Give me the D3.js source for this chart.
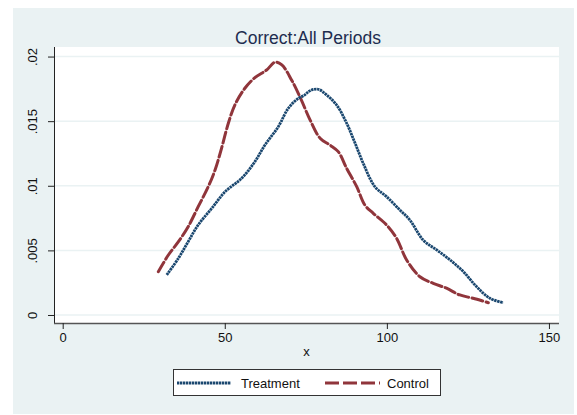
<!DOCTYPE html>
<html lang="en">
<head>
    <meta charset="UTF-8">
    <title>Correct:All Periods</title>
    <script src="https://d3js.org/d3.v7.min.js"></script>
    <style>
        body { margin: 0; background: #fff; }
        text { font-family: "Liberation Sans", Arial, sans-serif; }
    </style>
</head>
<body>
    <svg id="chart" width="577" height="415"></svg>
    <script>
    // density estimates
    const treatX = [32.1, 35.7, 38.7, 41.8, 46.0, 50.1, 55.2, 59.3, 62.4, 66.5, 69.6, 72.7, 74.5, 76.3, 78.8, 81.4, 84.5, 87.6, 90.2, 92.7, 96.3, 99.9, 104.0, 107.1, 111.2, 115.4, 119.5, 123.6, 127.7, 131.8, 135.9];
    const treatY = [.0031, .00439, .00567, .00697, .00826, .00954, .01058, .01187, .01316, .01457, .016, .01677, .01700, .01736, .01747, .01703, .01625, .01484, .01329, .01174, .00993, .00916, .00813, .00735, .0058, .00503, .00426, .00335, .00219, .00129, .00095];
    const ctrlX = [29.5, 32.6, 35.7, 38.7, 41.8, 44.9, 47.0, 49.0, 51.1, 53.1, 56.2, 59.3, 62.9, 65.5, 67.6, 70.6, 73.5, 76.3, 79.4, 82.4, 85.0, 87.6, 90.7, 93.2, 95.8, 99.9, 103.0, 106.1, 110.2, 114.3, 118.4, 122.5, 126.6, 131.3];
    const ctrlY = [.00335, .00464, .00567, .00683, .00838, .00993, .01122, .0129, .01484, .01625, .01755, .01837, .01896, .01956, .01935, .01819, .01670, .0151, .01368, .01316, .01264, .01135, .00993, .00851, .00787, .00697, .00594, .00426, .00296, .00245, .00207, .00155, .00129, .00095];
    const xTicks = [0, 50, 100, 150];
    const yTicks = [0, .005, .01, .015, .02];
    const yTickLabels = ["0", ".005", ".01", ".015", ".02"];
    const seriesNames = ["Treatment", "Control"];

    const svg = d3.select("#chart");
    const navy = "#1a476f", maroon = "#90353b", bg = "#eaf2f3";

    svg.append("rect").attr("x", 13).attr("y", 8).attr("width", 561).attr("height", 406).attr("fill", bg);

    const plot = { left: 54, right: 559, top: 47, bottom: 323 };
    const xScale = d3.scaleLinear().domain([-2.68, 153.1]).range([plot.left, plot.right]);
    const yScale = d3.scaleLinear().domain([-0.00062, 0.02074]).range([plot.bottom, plot.top]);

    svg.append("rect")
        .attr("x", plot.left).attr("y", plot.top)
        .attr("width", plot.right - plot.left).attr("height", plot.bottom - plot.top)
        .attr("fill", "#fff");

    // gridlines
    svg.append("g").selectAll("line").data(yTicks).enter().append("line")
        .attr("x1", plot.left).attr("x2", plot.right)
        .attr("y1", d => yScale(d)).attr("y2", d => yScale(d))
        .attr("stroke", bg).attr("stroke-width", 1.5);

    // axes
    const yAxis = d3.axisLeft(yScale).tickValues(yTicks).tickSize(6).tickFormat((d, i) => yTickLabels[i]);
    const gy = svg.append("g").attr("transform", `translate(${plot.left},0)`).call(yAxis);
    gy.select(".domain").attr("stroke", "#222").attr("d", `M0.5,${plot.top}V${plot.bottom}`);
    gy.selectAll(".tick line").attr("stroke", "#222");
    gy.selectAll(".tick text")
        .attr("transform", "rotate(-90)")
        .attr("x", 0).attr("y", -17).attr("dy", "0")
        .attr("text-anchor", "middle")
        .attr("font-size", 13).attr("fill", "#111")
        .style("font-family", "'Liberation Sans', Arial, sans-serif");

    const xAxis = d3.axisBottom(xScale).tickValues(xTicks).tickSize(6).tickFormat(d3.format("d"));
    const gx = svg.append("g").attr("transform", `translate(0,${plot.bottom})`).call(xAxis);
    gx.select(".domain").attr("stroke", "#555").attr("stroke-width", 1.5).attr("d", `M${plot.left},0.5H${plot.right}`);
    gx.selectAll(".tick line").attr("stroke", "#222");
    gx.selectAll(".tick text")
        .attr("y", 10).attr("dy", "0.71em")
        .attr("font-size", 13).attr("fill", "#111")
        .style("font-family", "'Liberation Sans', Arial, sans-serif");

    svg.append("text")
        .attr("x", (plot.left + plot.right) / 2).attr("y", 356)
        .attr("text-anchor", "middle").attr("font-size", 13).attr("fill", "#111")
        .text("x");

    // title
    svg.append("text")
        .attr("x", 308).attr("y", 44)
        .attr("text-anchor", "middle").attr("font-size", 17.5).attr("fill", "#1e2d4f")
        .text("Correct:All Periods");

    // density curves
    const line = d3.line().x(d => xScale(d[0])).y(d => yScale(d[1])).curve(d3.curveCatmullRom);
    svg.append("path")
        .datum(ctrlX.map((x, i) => [x, ctrlY[i]]))
        .attr("d", line).attr("fill", "none")
        .attr("stroke", maroon).attr("stroke-width", 3)
        .attr("stroke-dasharray", "11,3.5").attr("stroke-linecap", "round");
    svg.append("path")
        .datum(treatX.map((x, i) => [x, treatY[i]]))
        .attr("d", line).attr("fill", "none")
        .attr("stroke", navy).attr("stroke-width", 2.8)
        .attr("stroke-dasharray", "2.4,0.6");

    // legend
    const lg = svg.append("g");
    lg.append("rect").attr("x", 173.5).attr("y", 369.5).attr("width", 267).attr("height", 26)
        .attr("fill", "#fff").attr("stroke", "#333").attr("stroke-width", 1);
    const items = [
        { name: seriesNames[0], x0: 177, x1: 231, tx: 241, color: navy, dash: "2.4,0.6", w: 2.8 },
        { name: seriesNames[1], x0: 325, x1: 380, tx: 387, color: maroon, dash: "14,4", w: 3 }
    ];
    items.forEach(it => {
        lg.append("line").attr("x1", it.x0).attr("x2", it.x1).attr("y1", 383).attr("y2", 383)
            .attr("stroke", it.color).attr("stroke-width", it.w).attr("stroke-dasharray", it.dash);
        lg.append("text").attr("x", it.tx).attr("y", 387.5).attr("font-size", 13).attr("fill", "#111").text(it.name);
    });
    </script>
</body>
</html>
